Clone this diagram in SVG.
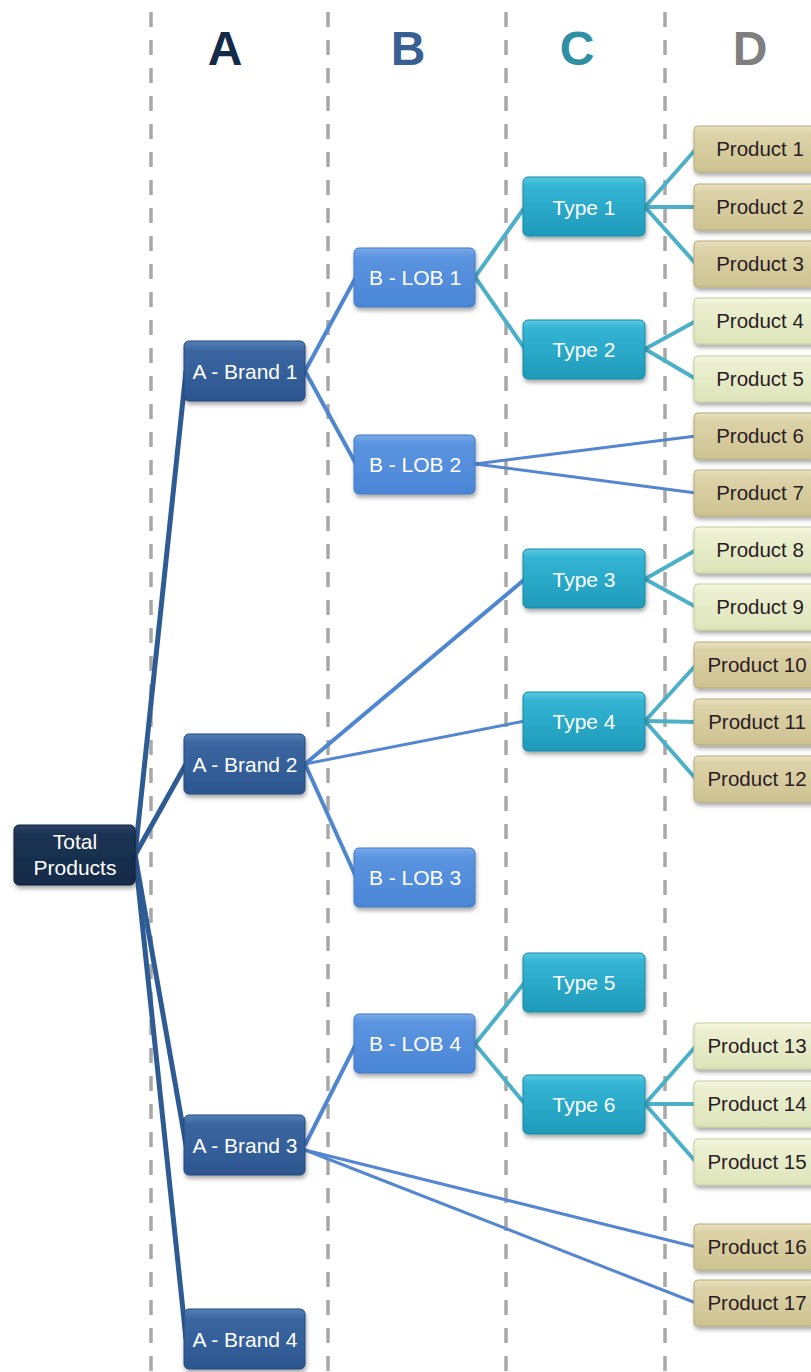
<svg xmlns="http://www.w3.org/2000/svg" width="811" height="1372" viewBox="0 0 811 1372">
<defs>
<linearGradient id="gTot" x1="0" y1="0" x2="0" y2="1"><stop offset="0" stop-color="#2c4669"/><stop offset="0.15" stop-color="#1c3455"/><stop offset="1" stop-color="#142a47"/></linearGradient>
<linearGradient id="gBrand" x1="0" y1="0" x2="0" y2="1"><stop offset="0" stop-color="#5580b8"/><stop offset="0.15" stop-color="#3b66a0"/><stop offset="1" stop-color="#2c5690"/></linearGradient>
<linearGradient id="gLob" x1="0" y1="0" x2="0" y2="1"><stop offset="0" stop-color="#7aaaea"/><stop offset="0.15" stop-color="#5b94e0"/><stop offset="1" stop-color="#4a86d6"/></linearGradient>
<linearGradient id="gType" x1="0" y1="0" x2="0" y2="1"><stop offset="0" stop-color="#5cc8e2"/><stop offset="0.15" stop-color="#33b4d4"/><stop offset="1" stop-color="#1f9ab9"/></linearGradient>
<linearGradient id="gTan" x1="0" y1="0" x2="0" y2="1"><stop offset="0" stop-color="#ebe3c2"/><stop offset="0.15" stop-color="#ddd3a9"/><stop offset="1" stop-color="#cdc290"/></linearGradient>
<linearGradient id="gLt" x1="0" y1="0" x2="0" y2="1"><stop offset="0" stop-color="#f6f8e4"/><stop offset="0.15" stop-color="#ecf0d1"/><stop offset="1" stop-color="#dde4b9"/></linearGradient>
<filter id="sh" x="-20%" y="-20%" width="140%" height="160%"><feDropShadow dx="1" dy="3" stdDeviation="2" flood-color="#000" flood-opacity="0.35"/></filter>
</defs>
<style>
.dash{stroke:#a8a8a8;stroke-width:3.5;stroke-dasharray:15 13;fill:none}
.hdr{font-family:"Liberation Sans",Arial,sans-serif;font-weight:bold;font-size:48px;text-anchor:middle}
.n rect{filter:url(#sh)}
.t{font-family:"Liberation Sans",Arial,sans-serif;font-size:21px;text-anchor:middle;fill:#ffffff}
.p{font-family:"Liberation Sans",Arial,sans-serif;font-size:20.5px;text-anchor:middle;fill:#2a1c24}
.tot{fill:url(#gTot);stroke:#0e1f36;stroke-width:1}
.brand{fill:url(#gBrand);stroke:#24497c;stroke-width:1}
.lob{fill:url(#gLob);stroke:#3f78c4;stroke-width:1}
.type{fill:url(#gType);stroke:#1a88a4;stroke-width:1}
.tan{fill:url(#gTan);stroke:#b6ab7a;stroke-width:1}
.lt{fill:url(#gLt);stroke:#c4cc9c;stroke-width:1}
.c1{stroke:#2f5b94;stroke-width:5;fill:none}
.c2{stroke:#4f86d0;stroke-width:4;fill:none}
.c3{stroke:#5586d0;stroke-width:3;fill:none}
.c4{stroke:#4bb0c8;stroke-width:4;fill:none}
</style>
<rect width="811" height="1372" fill="#ffffff"/>
<g id="grid">
<line class="dash" x1="151" y1="12" x2="151" y2="1372"/>
<line class="dash" x1="328" y1="12" x2="328" y2="1372"/>
<line class="dash" x1="506" y1="12" x2="506" y2="1372"/>
<line class="dash" x1="665" y1="12" x2="665" y2="1372"/>
</g>
<g id="headers">
<text class="hdr" x="225" y="65" fill="#132a48">A</text>
<text class="hdr" x="408" y="65" fill="#3a5f95">B</text>
<text class="hdr" x="577" y="65" fill="#2e8fa5">C</text>
<text class="hdr" x="750" y="65" fill="#7f7f7f">D</text>
</g>
<g id="connectors">
<line class="c1" x1="135" y1="855" x2="186" y2="371"/>
<line class="c1" x1="135" y1="855" x2="186" y2="764"/>
<line class="c1" x1="135" y1="855" x2="186" y2="1145"/>
<line class="c1" x1="135" y1="855" x2="186" y2="1339"/>
<line class="c2" x1="305" y1="371" x2="356" y2="277"/>
<line class="c2" x1="305" y1="371" x2="356" y2="464"/>
<line class="c2" x1="305" y1="764" x2="525" y2="579"/>
<line class="c3" x1="305" y1="764" x2="525" y2="721"/>
<line class="c2" x1="305" y1="764" x2="356" y2="877"/>
<line class="c2" x1="305" y1="1145" x2="356" y2="1044"/>
<line class="c3" x1="305" y1="1150" x2="696" y2="1247"/>
<line class="c3" x1="305" y1="1150" x2="696" y2="1303"/>
<line class="c3" x1="475" y1="464" x2="696" y2="436"/>
<line class="c3" x1="475" y1="464" x2="696" y2="493"/>
<line class="c4" x1="475" y1="277" x2="525" y2="207"/>
<line class="c4" x1="475" y1="277" x2="525" y2="349"/>
<line class="c4" x1="475" y1="1044" x2="525" y2="982"/>
<line class="c4" x1="475" y1="1044" x2="525" y2="1104"/>
<line class="c4" x1="645" y1="207" x2="696" y2="149"/>
<line class="c4" x1="645" y1="207" x2="696" y2="207"/>
<line class="c4" x1="645" y1="207" x2="696" y2="264"/>
<line class="c4" x1="645" y1="349" x2="696" y2="321"/>
<line class="c4" x1="645" y1="349" x2="696" y2="379"/>
<line class="c4" x1="645" y1="579" x2="696" y2="550"/>
<line class="c4" x1="645" y1="579" x2="696" y2="607"/>
<line class="c4" x1="645" y1="721" x2="696" y2="665"/>
<line class="c4" x1="645" y1="721" x2="696" y2="722"/>
<line class="c4" x1="645" y1="721" x2="696" y2="779"/>
<line class="c4" x1="645" y1="1104" x2="696" y2="1046"/>
<line class="c4" x1="645" y1="1104" x2="696" y2="1104"/>
<line class="c4" x1="645" y1="1104" x2="696" y2="1162"/>
</g>
<g id="total" class="n"><rect class="tot" x="14" y="825" width="121" height="60" rx="5"/><text class="t" x="75" y="849" fill="#eef2f8">Total</text><text class="t" x="75" y="875" fill="#eef2f8">Products</text></g>
<g id="brand1" class="n"><rect class="brand" x="184" y="341" width="121" height="60" rx="5"/><text class="t" x="245" y="379">A - Brand 1</text></g>
<g id="brand2" class="n"><rect class="brand" x="184" y="734" width="121" height="60" rx="5"/><text class="t" x="245" y="772">A - Brand 2</text></g>
<g id="brand3" class="n"><rect class="brand" x="184" y="1115" width="121" height="60" rx="5"/><text class="t" x="245" y="1153">A - Brand 3</text></g>
<g id="brand4" class="n"><rect class="brand" x="184" y="1309" width="121" height="60" rx="5"/><text class="t" x="245" y="1347">A - Brand 4</text></g>
<g id="lob1" class="n"><rect class="lob" x="354" y="248" width="121" height="59" rx="5"/><text class="t" x="415" y="285">B - LOB 1</text></g>
<g id="lob2" class="n"><rect class="lob" x="354" y="435" width="121" height="59" rx="5"/><text class="t" x="415" y="472">B - LOB 2</text></g>
<g id="lob3" class="n"><rect class="lob" x="354" y="848" width="121" height="59" rx="5"/><text class="t" x="415" y="885">B - LOB 3</text></g>
<g id="lob4" class="n"><rect class="lob" x="354" y="1014" width="121" height="59" rx="5"/><text class="t" x="415" y="1051">B - LOB 4</text></g>
<g id="type1" class="n"><rect class="type" x="523" y="177" width="122" height="59" rx="5"/><text class="t" x="584" y="215">Type 1</text></g>
<g id="type2" class="n"><rect class="type" x="523" y="320" width="122" height="59" rx="5"/><text class="t" x="584" y="357">Type 2</text></g>
<g id="type3" class="n"><rect class="type" x="523" y="549" width="122" height="59" rx="5"/><text class="t" x="584" y="587">Type 3</text></g>
<g id="type4" class="n"><rect class="type" x="523" y="692" width="122" height="59" rx="5"/><text class="t" x="584" y="729">Type 4</text></g>
<g id="type5" class="n"><rect class="type" x="523" y="953" width="122" height="59" rx="5"/><text class="t" x="584" y="990">Type 5</text></g>
<g id="type6" class="n"><rect class="type" x="523" y="1075" width="122" height="59" rx="5"/><text class="t" x="584" y="1112">Type 6</text></g>
<g id="p1" class="n"><rect class="tan" x="694" y="126" width="134" height="46" rx="4"/><text class="p" x="760" y="156">Product 1</text></g>
<g id="p2" class="n"><rect class="tan" x="694" y="184" width="134" height="46" rx="4"/><text class="p" x="760" y="214">Product 2</text></g>
<g id="p3" class="n"><rect class="tan" x="694" y="241" width="134" height="46" rx="4"/><text class="p" x="760" y="271">Product 3</text></g>
<g id="p4" class="n"><rect class="lt" x="694" y="298" width="134" height="46" rx="4"/><text class="p" x="760" y="328">Product 4</text></g>
<g id="p5" class="n"><rect class="lt" x="694" y="356" width="134" height="46" rx="4"/><text class="p" x="760" y="386">Product 5</text></g>
<g id="p6" class="n"><rect class="tan" x="694" y="413" width="134" height="46" rx="4"/><text class="p" x="760" y="443">Product 6</text></g>
<g id="p7" class="n"><rect class="tan" x="694" y="470" width="134" height="46" rx="4"/><text class="p" x="760" y="500">Product 7</text></g>
<g id="p8" class="n"><rect class="lt" x="694" y="527" width="134" height="46" rx="4"/><text class="p" x="760" y="557">Product 8</text></g>
<g id="p9" class="n"><rect class="lt" x="694" y="584" width="134" height="46" rx="4"/><text class="p" x="760" y="614">Product 9</text></g>
<g id="p10" class="n"><rect class="tan" x="694" y="642" width="134" height="46" rx="4"/><text class="p" x="757" y="672">Product 10</text></g>
<g id="p11" class="n"><rect class="tan" x="694" y="699" width="134" height="46" rx="4"/><text class="p" x="757" y="729">Product 11</text></g>
<g id="p12" class="n"><rect class="tan" x="694" y="756" width="134" height="46" rx="4"/><text class="p" x="757" y="786">Product 12</text></g>
<g id="p13" class="n"><rect class="lt" x="694" y="1023" width="134" height="46" rx="4"/><text class="p" x="757" y="1053">Product 13</text></g>
<g id="p14" class="n"><rect class="lt" x="694" y="1081" width="134" height="46" rx="4"/><text class="p" x="757" y="1111">Product 14</text></g>
<g id="p15" class="n"><rect class="lt" x="694" y="1139" width="134" height="46" rx="4"/><text class="p" x="757" y="1169">Product 15</text></g>
<g id="p16" class="n"><rect class="tan" x="694" y="1224" width="134" height="46" rx="4"/><text class="p" x="757" y="1254">Product 16</text></g>
<g id="p17" class="n"><rect class="tan" x="694" y="1280" width="134" height="46" rx="4"/><text class="p" x="757" y="1310">Product 17</text></g>
</svg>
